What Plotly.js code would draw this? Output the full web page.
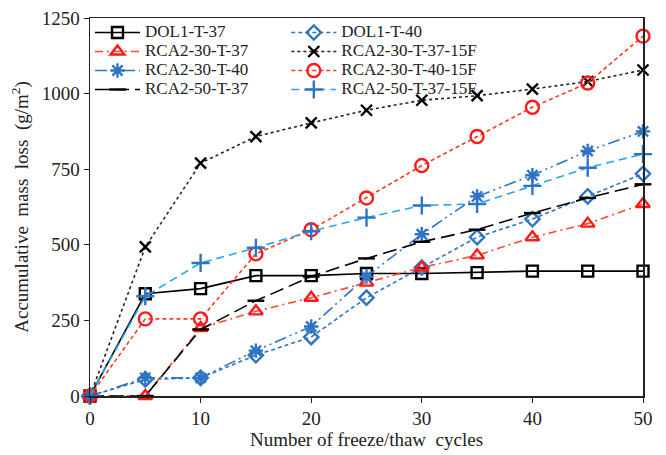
<!DOCTYPE html>
<html><head><meta charset="utf-8">
<script src="https://cdn.plot.ly/plotly-3.0.1.min.js"></script>
<style>html,body{margin:0;padding:0;background:#fff}#chart{width:666px;height:455px}</style>
</head><body><div id="chart"></div>
<script>
const cycles = [0,5,10,15,20,25,30,35,40,45,50];
const names = ["DOL1-T-37","DOL1-T-40","RCA2-30-T-37","RCA2-30-T-37-15F","RCA2-30-T-40","RCA2-30-T-40-15F","RCA2-50-T-37","RCA2-50-T-37-15F"];
const dol1_T37 = [0,338,355,398,398,405,405,408,413,413,413];
const dol1_T40 = [0,55,60,135,195,325,425,525,585,660,735];
const rca2_30_T37 = [0,0,225,280,325,375,425,465,525,570,635];
const rca2_30_T37_15F = [0,493,770,858,903,945,978,993,1015,1040,1078];
const rca2_30_T40 = [0,60,60,150,230,395,535,660,730,810,875];
const rca2_30_T40_15F = [0,255,255,470,550,655,762,858,955,1035,1190];
const rca2_50_T37 = [0,0,220,315,395,455,510,550,605,655,700];
const rca2_50_T37_15F = [0,330,440,490,545,590,630,635,695,755,800];

const series = [dol1_T37,dol1_T40,rca2_30_T37,rca2_30_T37_15F,rca2_30_T40,rca2_30_T40_15F,rca2_50_T37,rca2_50_T37_15F];
const styles = [
 {lc:'#000000', dash:'solid', sym:'square-open', mc:'#000000', ms:11},
 {lc:'#2f74c4', dash:'4px,3px', sym:'diamond-open', mc:'#2f74c4', ms:11},
 {lc:'#ff4a2a', dash:'8px,4px,2px,4px', sym:'triangle-up-open', mc:'#ff1a1a', ms:12},
 {lc:'#222222', dash:'dot', sym:'x-thin-open', mc:'#000000', ms:11},
 {lc:'#2f74c4', dash:'12px,4px,2px,4px,2px,4px', sym:'asterisk-open', mc:'#2f74c4', ms:12},
 {lc:'#ff3b1f', dash:'4px,3px', sym:'circle-open', mc:'#ff1a1a', ms:13},
 {lc:'#000000', dash:'14px,6px', sym:'line-ew-open', mc:'#000000', ms:12},
 {lc:'#2aa6e8', dash:'8px,5px', sym:'cross-thin-open', mc:'#2f74c4', ms:13}
];
const traces = series.map((y,i)=>({
  x: cycles, y: y, name: '<span style="font-size:17px">' + names[i] + '</span>', type:'scatter', mode:'lines+markers', cliponaxis:false,
  legend: (i % 2 === 0) ? 'legend' : 'legend2',
  line:{color:styles[i].lc, width:1.6, dash:styles[i].dash},
  marker:{symbol:styles[i].sym, size:styles[i].ms, color:styles[i].mc, line:{width:2.4, color:styles[i].mc}}
}));
const fam = 'Liberation Serif, Times New Roman, serif';
const legFont = {family:fam, size:11, color:'#222'};
const layout = {
  width:666, height:455,
  margin:{l:90, r:23, t:18, b:59},
  paper_bgcolor:'#fff', plot_bgcolor:'#fff',
  font: {family:fam, size:19, color:'#222'},
  showlegend:true,
  legend:{x:0.0, y:1, xanchor:'left', yanchor:'top', itemwidth:45, tracegroupgap:0, font:legFont, bgcolor:'rgba(255,255,255,0)'},
  legend2:{x:0.355, y:1, xanchor:'left', yanchor:'top', itemwidth:45, tracegroupgap:0, font:legFont, bgcolor:'rgba(255,255,255,0)'},
  xaxis:{range:[0,50], tickvals:[0,10,20,30,40,50], showgrid:false, zeroline:false, showline:true, mirror:true,
         linecolor:'#222', linewidth:1.5, ticks:'outside', ticklen:5, tickcolor:'#222',
         tickfont:{family:fam, size:19, color:'#222'},
         title:{text:'Number of freeze/thaw  cycles', font:{family:fam, size:19, color:'#222'}, standoff:4}},
  yaxis:{range:[0,1250], tickvals:[0,250,500,750,1000,1250], showgrid:false, zeroline:false, showline:true, mirror:true,
         linecolor:'#222', linewidth:1.5, ticks:'outside', ticklen:5, tickcolor:'#222',
         tickfont:{family:fam, size:19, color:'#222'},
         title:{text:'Accumulative  mass  loss  (g/m<sup>2</sup>)', font:{family:fam, size:19, color:'#222'}, standoff:8}}
};
Plotly.newPlot('chart', traces, layout, {displayModeBar:false, staticPlot:true});
</script></body></html>
